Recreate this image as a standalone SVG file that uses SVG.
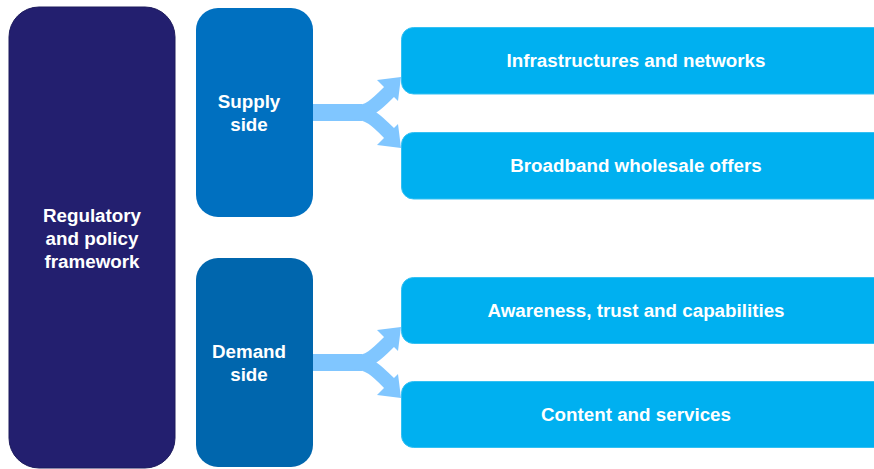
<svg xmlns="http://www.w3.org/2000/svg" width="874" height="469" viewBox="0 0 874 469">
<style>
text{font-family:"Liberation Sans",Arial,sans-serif;font-weight:bold;font-size:18.8px;fill:#fff;text-anchor:middle}
.item{fill:#00B0F0;stroke:#33C0F3;stroke-width:1}
.arr{fill:none;stroke:#80C6FF}
.head{fill:#80C6FF}
</style>
<rect width="874" height="469" fill="#fff"/>
<defs>
<g id="fork">
<path class="arr" stroke-width="17" d="M313,112.5 H362"/>
<path class="arr" stroke-width="14" d="M354,112.5 C369,112.5 377,104 390,91"/>
<path class="arr" stroke-width="14" d="M354,112.5 C369,112.5 377,121 390,134"/>
<polygon class="head" points="377,80 401,77 398,101"/>
<polygon class="head" points="377,145 401,148 398,124"/>
</g>
</defs>
<g id="framework">
<rect x="9" y="7" width="166" height="461" rx="30" fill="#231F6F" stroke="#1C1A5C" stroke-width="1"/>
<text x="92" y="222">Regulatory</text>
<text x="92" y="245">and policy</text>
<text x="92" y="268">framework</text>
</g>
<g id="supply">
<rect x="196" y="8" width="117" height="209" rx="22" fill="#0070C0"/>
<text x="249" y="108">Supply</text>
<text x="249" y="131">side</text>
</g>
<g id="demand">
<rect x="196" y="258" width="117" height="209" rx="22" fill="#0066AD"/>
<text x="249" y="358">Demand</text>
<text x="249" y="381">side</text>
</g>
<g id="connectors">
<use href="#fork"/>
<use href="#fork" transform="translate(0,250)"/>
</g>
<g id="infra">
<rect class="item" x="401.5" y="27.5" width="490" height="66.5" rx="12"/>
<text x="636" y="67">Infrastructures and networks</text>
</g>
<g id="wholesale">
<rect class="item" x="401.5" y="132.5" width="490" height="66.5" rx="12"/>
<text x="636" y="172">Broadband wholesale offers</text>
</g>
<g id="awareness">
<rect class="item" x="401.5" y="277.5" width="490" height="66" rx="12"/>
<text x="636" y="317">Awareness, trust and capabilities</text>
</g>
<g id="content">
<rect class="item" x="401.5" y="381.5" width="490" height="66" rx="12"/>
<text x="636" y="421">Content and services</text>
</g>
</svg>
